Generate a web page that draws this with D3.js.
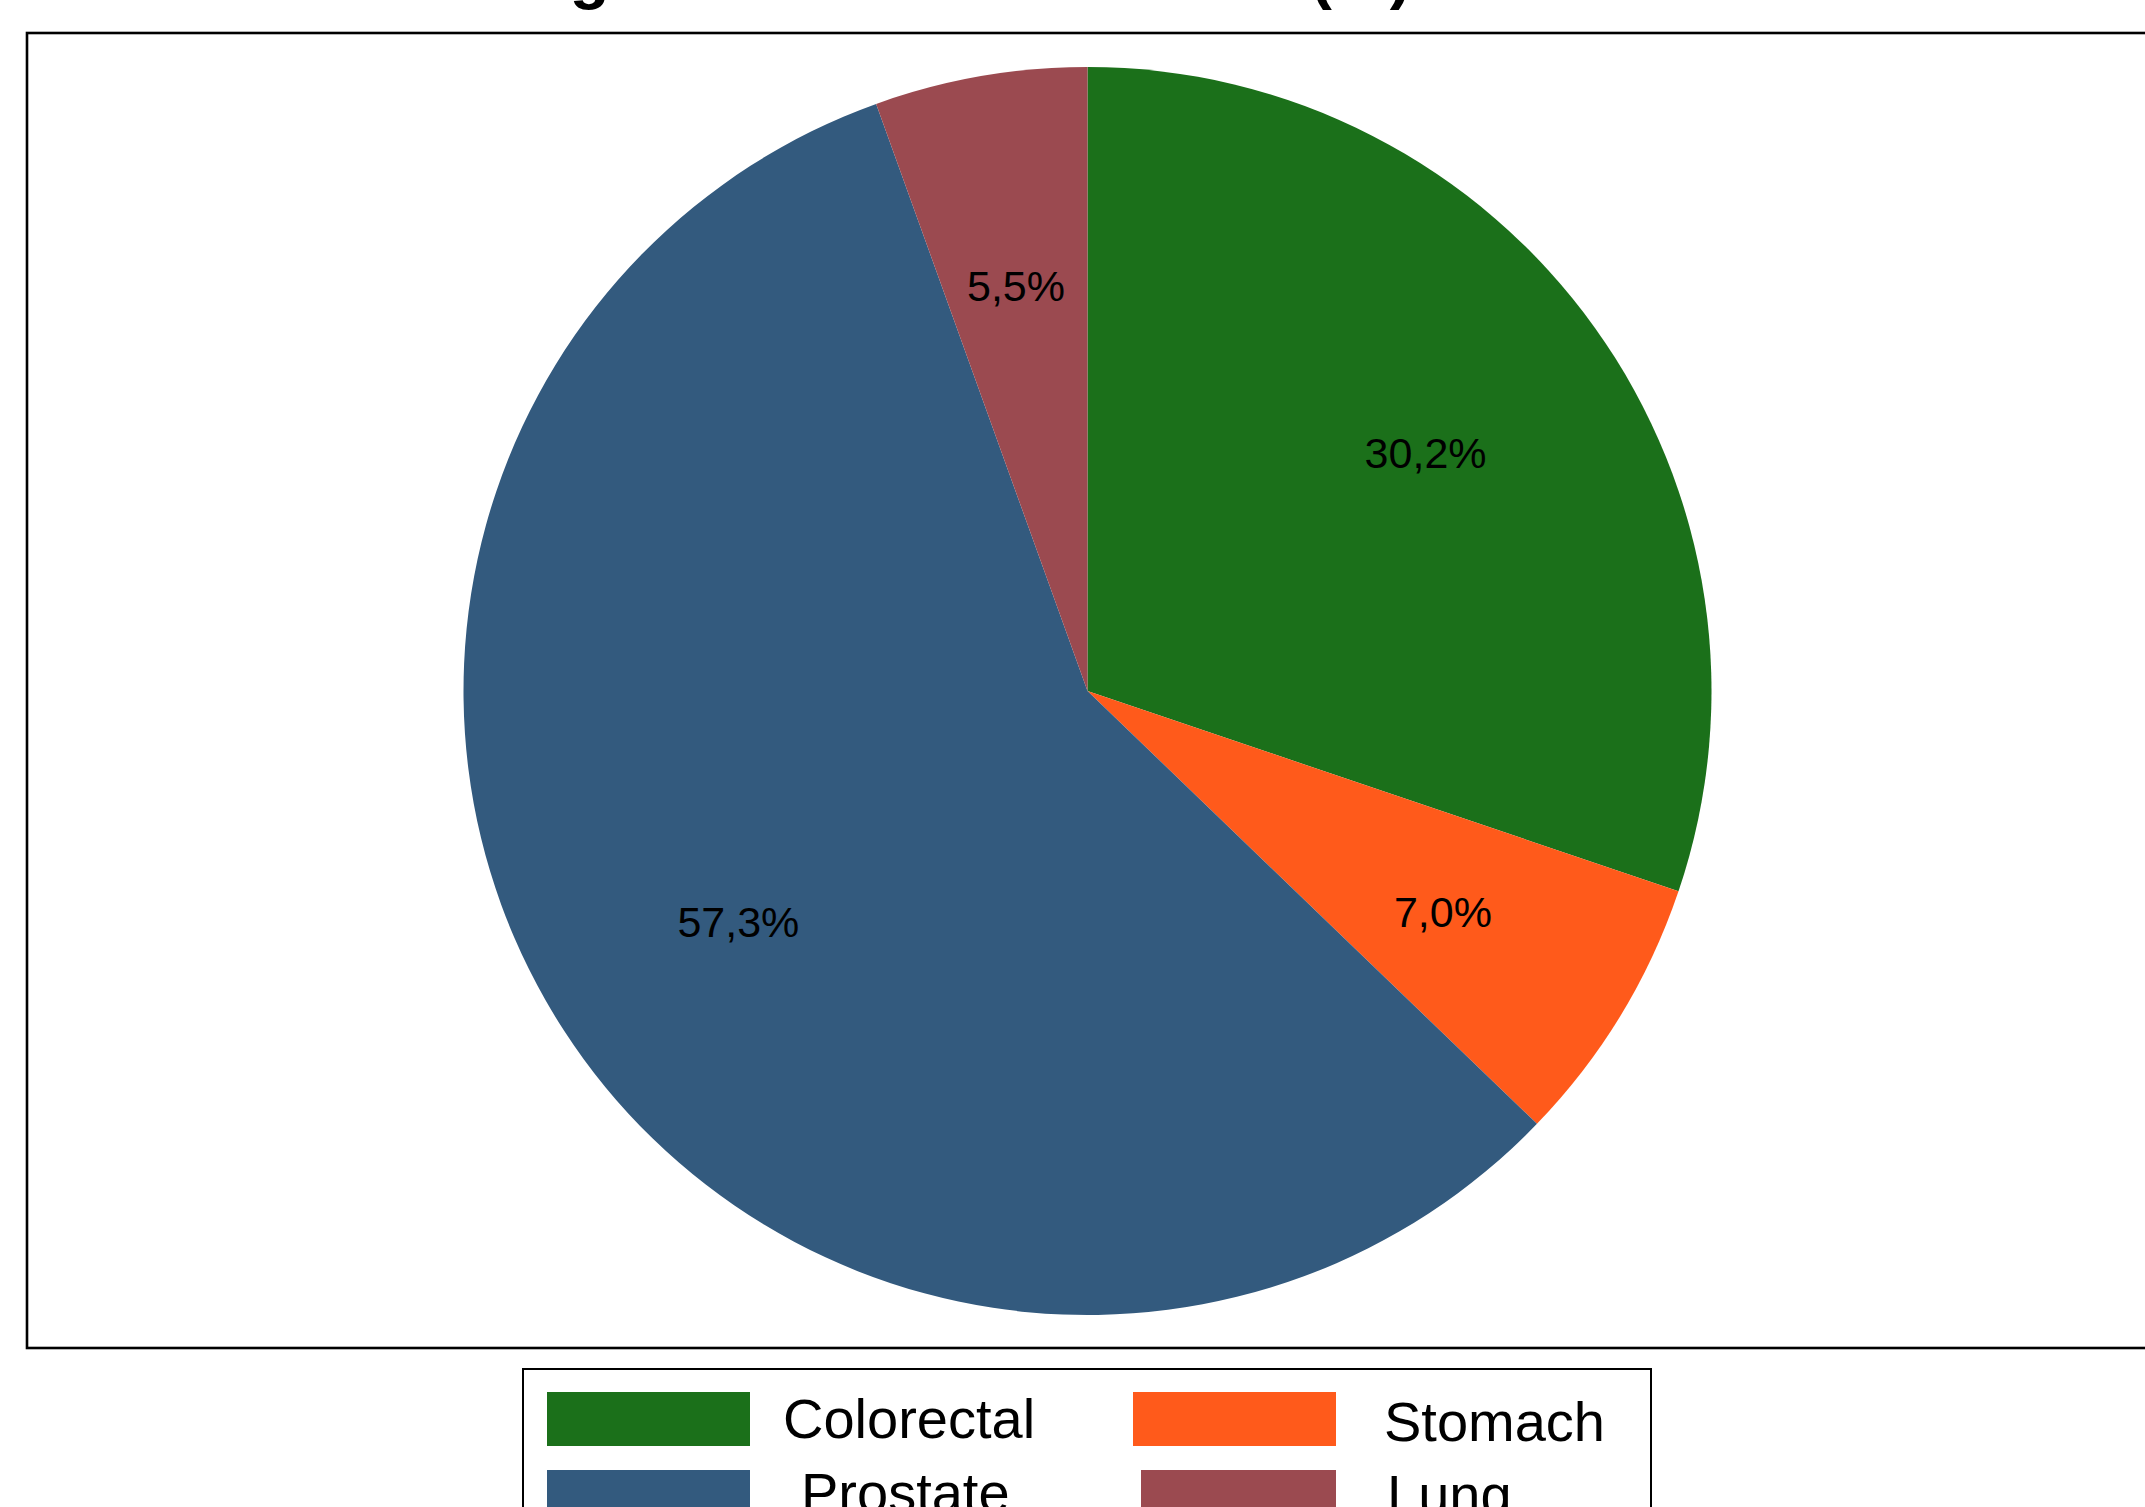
<!DOCTYPE html>
<html>
<head>
<meta charset="utf-8">
<script src="https://cdn.jsdelivr.net/npm/d3@7"></script>
<style>
  html, body { margin: 0; padding: 0; background: #ffffff; }
  svg { display: block; }
  text { font-family: "Liberation Sans", Arial, Helvetica, sans-serif; }
</style>
</head>
<body>
<svg id="chart" width="2145" height="1507"></svg>
<script>
// Cancer type shares (%), drawn clockwise from 12 o'clock
const categories = ["Colorectal", "Stomach", "Prostate", "Lung"];
const shares = [30.2, 7.0, 57.3, 5.5];
const shareLabels = ["30,2%", "7,0%", "57,3%", "5,5%"];
const sliceColors = ["#1b701a", "#ff5a1b", "#335a7e", "#9b4a50"];
const titleText = "Diagnosed cancers in men (%)";

// Legend order (two rows of two)
const legendOrder = ["Colorectal", "Stomach", "Prostate", "Lung"];

const svg = d3.select("#chart");
const W = 2145, H = 1507;

svg.append("rect").attr("width", W).attr("height", H).attr("fill", "#ffffff");

// Title (sits mostly above the top edge of the canvas)
svg.append("text")
  .attr("x", 940)
  .attr("y", -3.5)
  .attr("text-anchor", "middle")
  .attr("font-size", 65)
  .attr("font-weight", "bold")
  .attr("fill", "#000")
  .text(titleText);

// Plot panel
const panel = { left: 27, top: 33, right: 2150, bottom: 1348 };
svg.append("rect")
  .attr("x", panel.left)
  .attr("y", panel.top)
  .attr("width", panel.right - panel.left)
  .attr("height", panel.bottom - panel.top)
  .attr("fill", "none")
  .attr("stroke", "#000")
  .attr("stroke-width", 2.6);

// Pie
const cx = 1087.5, cy = 691, radius = 624, labelRadius = 416;
const color = d3.scaleOrdinal().domain(categories).range(sliceColors);
const pie = d3.pie().sort(null).value(d => d.value).startAngle(0).endAngle(2 * Math.PI);
const data = categories.map((c, i) => ({ name: c, value: shares[i], label: shareLabels[i] }));
const arcs = pie(data);

const arc = d3.arc().innerRadius(0).outerRadius(radius);
const labelArc = d3.arc().innerRadius(labelRadius).outerRadius(labelRadius);

const g = svg.append("g").attr("transform", `translate(${cx},${cy})`);
g.selectAll("path.slice")
  .data(arcs)
  .join("path")
  .attr("class", "slice")
  .attr("d", arc)
  .attr("fill", d => color(d.data.name));

g.selectAll("text.pct")
  .data(arcs)
  .join("text")
  .attr("class", "pct")
  .attr("transform", d => `translate(${labelArc.centroid(d)})`)
  .attr("text-anchor", "middle")
  .attr("dy", "0.45em")
  .attr("font-size", 43)
  .attr("fill", "#000")
  .text(d => d.data.label);

// Legend
const legend = { left: 523, top: 1369, right: 1651, bottom: 1560 };
svg.append("rect")
  .attr("x", legend.left)
  .attr("y", legend.top)
  .attr("width", legend.right - legend.left)
  .attr("height", legend.bottom - legend.top)
  .attr("fill", "#fff")
  .attr("stroke", "#000")
  .attr("stroke-width", 2);

// swatch / text placement per legend slot (column, row)
const colSwatchX = [547, 1133];
const rowSwatchY = [1392, 1470];
const textX = { Colorectal: 783, Stomach: 1384, Prostate: 801, Lung: 1387 };
const textY = { Colorectal: 1438, Stomach: 1441, Prostate: 1512, Lung: 1514 };
const swatchW = 203, swatchH = 54;

const items = svg.append("g").selectAll("g.item")
  .data(legendOrder)
  .join("g")
  .attr("class", "item");

items.append("rect")
  .attr("x", (d, i) => colSwatchX[i % 2] + (d === "Lung" ? 8 : 0))
  .attr("y", (d, i) => rowSwatchY[Math.floor(i / 2)])
  .attr("width", d => swatchW - (d === "Lung" ? 8 : 0))
  .attr("height", swatchH)
  .attr("fill", d => color(d));

items.append("text")
  .attr("x", d => textX[d])
  .attr("y", d => textY[d])
  .attr("font-size", 56)
  .attr("fill", "#000")
  .text(d => d);
</script>
</body>
</html>
